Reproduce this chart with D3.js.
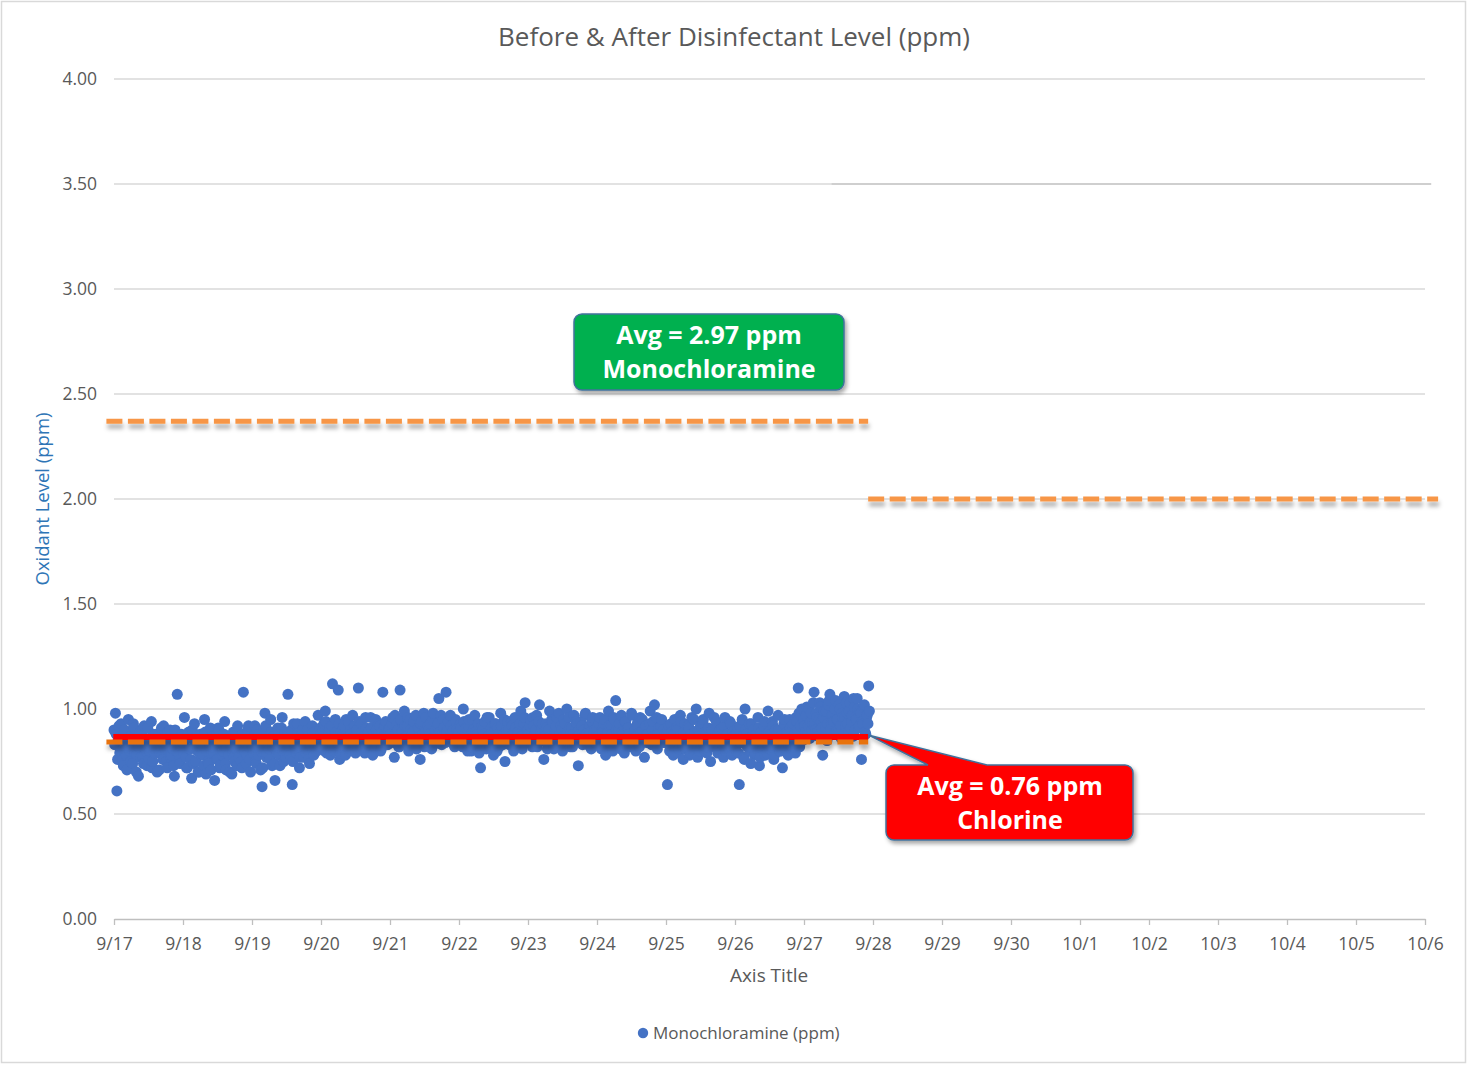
<!DOCTYPE html>
<html>
<head>
<meta charset="utf-8">
<script src="https://cdn.jsdelivr.net/npm/d3@7"></script>
<style>
  html, body { margin: 0; padding: 0; background: #fff; }
  svg { display: block; }
  text { font-family: "Open Sans", "Noto Sans", sans-serif; }
</style>
</head>
<body>
<svg id="chart" width="1467" height="1065"></svg>
<script>
// Monochloramine readings (ppm), one array per day; the first set is logged on the hour
// and half hour, the second set at quarter past and quarter to.
const day0917 = [0.90,0.98,0.61,0.85,0.79,0.93,0.76,0.88,0.82,0.71,0.95,0.80,0.87,0.74,0.91,0.83,0.78,0.68,0.89,0.84,0.77,0.92,0.81,0.73,0.86,0.80,0.94,0.75,0.83,0.88,0.70,0.85,0.79,0.91,0.76,0.82,0.87,0.72,0.84,0.90,0.78,0.81,0.68,0.86,1.07,0.79,0.74,0.88];
const day0918 = [0.84,0.96,0.77,0.72,0.89,0.81,0.67,0.86,0.93,0.75,0.80,0.70,0.88,0.83,0.78,0.95,0.69,0.85,0.74,0.91,0.79,0.82,0.66,0.87,0.76,0.90,0.73,0.84,0.80,0.94,0.71,0.86,0.78,0.83,0.69,0.89,0.75,0.81,0.92,0.77,0.85,0.72,1.08,0.80,0.74,0.90,0.82,0.70];
const day0919 = [0.86,0.79,0.92,0.74,0.83,0.88,0.71,0.63,0.90,0.98,0.77,0.85,0.81,0.95,0.73,0.87,0.66,0.82,0.91,0.78,0.84,0.96,0.75,0.89,0.80,1.07,0.86,0.76,0.64,0.93,0.82,0.79,0.88,0.72,0.85,0.90,0.77,0.94,0.81,0.87,0.74,0.83,0.92,0.78,0.86,0.80,0.97,0.84];
const day0920 = [0.88,0.82,0.93,0.99,0.79,0.86,0.91,0.84,1.12,0.80,0.95,0.87,1.09,0.76,0.89,0.83,0.92,0.78,0.86,0.94,0.81,0.88,0.97,0.84,0.79,0.90,1.10,0.85,0.93,0.82,0.87,0.96,0.80,0.89,0.84,0.91,0.78,0.86,0.95,0.83,0.88,0.92,0.81,1.08,0.87,0.94,0.85,0.90];
const day0921 = [0.91,0.85,0.96,0.77,0.88,0.93,0.82,1.09,0.90,0.86,0.99,0.84,0.92,0.80,0.95,0.87,0.89,0.83,0.97,0.85,0.91,0.76,0.94,0.88,0.82,0.96,0.86,0.90,0.93,0.81,0.98,0.87,0.84,0.92,1.05,0.89,0.83,0.95,0.88,1.08,0.91,0.85,0.97,0.86,0.90,0.82,0.94,0.87];
const day0922 = [0.89,0.93,0.84,1.00,0.87,0.91,0.80,0.95,0.86,0.82,0.90,0.97,0.83,0.88,0.79,0.72,0.92,0.85,0.94,0.81,0.87,0.96,0.84,0.89,0.78,0.93,0.86,0.91,0.82,0.98,0.85,0.88,0.75,0.90,0.94,0.83,0.87,0.92,0.80,0.96,0.86,0.89,0.84,0.99,0.81,0.93,1.03,0.85];
const day0923 = [0.90,0.86,0.95,0.82,0.92,0.88,0.97,0.84,1.02,0.89,0.93,0.76,0.87,0.91,0.83,0.99,0.86,0.94,0.81,0.90,0.96,0.85,0.88,0.92,0.80,0.95,0.87,1.00,0.84,0.91,0.89,0.82,0.97,0.86,0.93,0.73,0.88,0.94,0.83,0.90,0.98,0.85,0.87,0.92,0.81,0.96,0.89,0.84];
const day0924 = [0.91,0.85,0.96,0.81,0.89,0.93,0.78,0.87,0.99,0.84,0.92,0.80,0.95,1.04,0.86,0.90,0.83,0.97,0.88,0.79,0.94,0.85,0.91,0.82,0.98,0.87,0.89,0.80,0.93,0.84,0.96,0.86,0.90,0.77,0.92,0.88,0.85,0.99,0.83,0.94,1.02,0.87,0.81,0.91,0.89,0.95,0.84,0.88];
const day0925 = [0.87,0.64,0.92,0.83,0.89,0.78,0.95,0.85,0.90,0.81,0.97,0.86,0.76,0.93,0.88,0.82,0.91,0.79,0.96,0.84,0.89,1.00,0.77,0.87,0.92,0.83,0.95,0.80,0.88,0.85,0.98,0.75,0.90,0.86,0.82,0.94,0.79,0.89,0.84,0.91,0.77,0.96,0.85,0.88,0.81,0.93,0.78,0.87];
const day0926 = [0.86,0.80,0.91,0.64,0.84,0.95,0.77,1.00,0.88,0.82,0.93,0.74,0.87,0.90,0.79,0.85,0.96,0.73,0.89,0.83,0.92,0.78,0.86,0.99,0.81,0.88,0.94,0.76,0.90,0.84,0.97,0.80,0.87,0.72,0.93,0.85,0.89,0.78,0.95,0.83,0.91,0.86,0.79,0.94,1.10,0.82,0.97,0.85];
const day0927 = [0.95,0.89,1.01,0.92,0.86,0.98,0.93,1.08,0.90,0.96,0.87,1.03,0.94,0.78,0.99,0.91,0.85,1.02,1.07,0.93,0.97,0.88,1.04,0.95,0.90,1.00,0.86,0.96,1.06,0.92,0.98,0.89,1.03,0.94,0.87,1.01,0.96,1.05,0.91,0.99,0.76,0.93,1.02,0.88,0.97,1.11];

const day0917b = [0.83,0.88,0.76,0.92,0.80,0.86,0.73,0.90,0.78,0.84,0.87,0.75,0.81,0.93,0.79,0.70,0.85,0.82,0.77,0.89,0.74,0.86,0.80,0.91,0.76,0.84,0.72,0.88,0.79,0.83,0.87,0.71,0.85,0.78,0.92,0.81,0.75,0.89,0.83,0.77,0.86,0.73,0.90,0.80,0.84,0.76,0.82,0.87];
const day0918b = [0.79,0.85,0.72,0.88,0.81,0.76,0.90,0.74,0.83,0.87,0.70,0.82,0.78,0.86,0.73,0.89,0.80,0.75,0.84,0.71,0.87,0.79,0.83,0.76,0.91,0.72,0.85,0.78,0.88,0.74,0.81,0.86,0.70,0.84,0.79,0.77,0.89,0.73,0.82,0.86,0.75,0.88,0.80,0.84,0.78,0.92,0.76,0.83];
const day0919b = [0.81,0.87,0.75,0.90,0.78,0.84,0.80,0.72,0.86,0.92,0.79,0.83,0.76,0.89,0.82,0.74,0.85,0.79,0.88,0.73,0.91,0.80,0.84,0.77,0.87,0.82,0.78,0.90,0.75,0.86,0.80,0.93,0.83,0.77,0.88,0.81,0.85,0.79,0.90,0.76,0.84,0.87,0.80,0.89,0.82,0.86,0.83,0.91];
const day0920b = [0.85,0.90,0.80,0.94,0.83,0.88,0.78,0.92,0.86,0.81,0.89,0.84,0.93,0.79,0.87,0.91,0.82,0.95,0.85,0.80,0.90,0.86,0.83,0.92,0.88,0.81,0.94,0.84,0.89,0.86,0.79,0.91,0.87,0.83,0.96,0.85,0.88,0.82,0.90,0.86,0.93,0.80,0.89,0.84,0.92,0.87,0.83,0.91];
const day0921b = [0.88,0.93,0.84,0.97,0.86,0.90,0.82,0.95,0.89,0.85,0.92,0.87,0.96,0.83,0.90,0.88,0.94,0.86,0.81,0.91,0.87,0.93,0.85,0.98,0.89,0.84,0.92,0.88,0.86,0.95,0.83,0.90,0.87,0.93,0.85,0.97,0.88,0.91,0.84,0.89,0.94,0.86,0.92,0.88,0.83,0.95,0.90,0.86];
const day0922b = [0.86,0.91,0.82,0.94,0.88,0.84,0.92,0.87,0.80,0.95,0.85,0.89,0.83,0.93,0.86,0.81,0.90,0.88,0.84,0.96,0.87,0.82,0.91,0.85,0.89,0.93,0.80,0.88,0.86,0.92,0.83,0.95,0.87,0.84,0.90,0.86,0.94,0.82,0.89,0.91,0.85,0.88,0.93,0.87,0.84,0.96,0.86,0.90];
const day0923b = [0.88,0.92,0.84,0.96,0.87,0.90,0.82,0.94,0.86,0.91,0.85,0.89,0.93,0.81,0.90,0.87,0.95,0.84,0.88,0.92,0.86,0.98,0.83,0.90,0.87,0.93,0.85,0.89,0.96,0.82,0.91,0.88,0.84,0.94,0.87,0.90,0.86,0.92,0.85,0.97,0.88,0.83,0.91,0.89,0.94,0.86,0.90,0.87];
const day0924b = [0.87,0.93,0.83,0.90,0.86,0.95,0.82,0.89,0.92,0.85,0.88,0.96,0.84,0.90,0.87,0.93,0.81,0.89,0.86,0.94,0.83,0.91,0.88,0.85,0.97,0.84,0.90,0.87,0.92,0.82,0.89,0.95,0.86,0.91,0.84,0.88,0.93,0.85,0.90,0.87,0.83,0.96,0.88,0.85,0.92,0.86,0.90,0.84];
const day0925b = [0.85,0.90,0.80,0.93,0.84,0.88,0.82,0.91,0.79,0.87,0.94,0.83,0.89,0.81,0.86,0.92,0.78,0.88,0.84,0.95,0.82,0.87,0.90,0.80,0.86,0.93,0.83,0.89,0.79,0.91,0.85,0.88,0.82,0.96,0.84,0.87,0.81,0.90,0.86,0.83,0.92,0.80,0.88,0.85,0.94,0.82,0.89,0.84];
const day0926b = [0.83,0.89,0.79,0.92,0.84,0.87,0.76,0.90,0.82,0.86,0.80,0.93,0.85,0.78,0.88,0.83,0.91,0.77,0.86,0.81,0.94,0.84,0.79,0.89,0.85,0.82,0.92,0.78,0.87,0.83,0.90,0.80,0.86,0.84,0.95,0.81,0.88,0.83,0.91,0.86,0.93,0.88,0.96,0.90,0.98,0.92,1.00,0.94];
const day0927b = [0.92,0.97,0.88,1.00,0.94,0.90,1.03,0.93,0.98,0.89,0.95,1.01,0.91,0.96,0.87,0.99,0.93,1.04,0.90,0.97,0.94,1.00,0.89,0.95,1.02,0.92,0.98,0.88,0.96,1.03,0.93,0.99,0.91,0.97,1.05,0.90,0.95,1.00,0.92,0.98,0.94,1.01,0.89,0.96,0.93,0.99];

const onTheHalfHour = [day0917, day0918, day0919, day0920, day0921, day0922, day0923, day0924, day0925, day0926, day0927];
const onTheQuarter = [day0917b, day0918b, day0919b, day0920b, day0921b, day0922b, day0923b, day0924b, day0925b, day0926b, day0927b];

// Axis ticks
const yTicks = [0, 0.5, 1.0, 1.5, 2.0, 2.5, 3.0, 3.5, 4.0];

// Level guides: [value, from day, to day] counted from 9/17 00:00
const beforeLevel = [2.37, -0.11, 10.93];
const afterLevel = [2.00, 10.93, 19.19];
const chlorineLevel = [0.843, -0.11, 10.93];
const chlorineAvgLine = [0.867, -0.01, 10.93];
const upperRule = [3.50, 10.4, 19.09];

// Callout texts
const monoCallout = ["Avg = 2.97 ppm", "Monochloramine"];
const chlorineCallout = ["Avg = 0.76 ppm", "Chlorine"];

const start = new Date(2019, 8, 17);
const end = new Date(2019, 9, 6);
const atDay = d => new Date(+start + d * 864e5);

const svg = d3.select("#chart");
const x = d3.scaleTime().domain([start, end]).range([114, 1425]);
const y = d3.scaleLinear().domain([0, 4]).range([919, 79]);

// Shadows (user-space regions so flat lines keep their filter area)
const defs = svg.append("defs");
const sh = defs.append("filter").attr("id", "lineShadow").attr("filterUnits", "userSpaceOnUse")
  .attr("x", 0).attr("y", 0).attr("width", 1467).attr("height", 1065);
sh.append("feDropShadow").attr("dx", 1).attr("dy", 5).attr("stdDeviation", 2.2)
  .attr("flood-color", "#000").attr("flood-opacity", 0.3);
const bs = defs.append("filter").attr("id", "boxShadow").attr("filterUnits", "userSpaceOnUse")
  .attr("x", 0).attr("y", 0).attr("width", 1467).attr("height", 1065);
bs.append("feDropShadow").attr("dx", 2).attr("dy", 3).attr("stdDeviation", 2)
  .attr("flood-color", "#000").attr("flood-opacity", 0.35);

// Outer frame
svg.append("rect").attr("x", 1.5).attr("y", 1.5).attr("width", 1464).attr("height", 1061)
  .attr("fill", "#fff").attr("stroke", "#d9d9d9").attr("stroke-width", 1.5);

// Title
svg.append("text").attr("x", 734).attr("y", 46).attr("text-anchor", "middle")
  .attr("font-size", 26).attr("fill", "#595959")
  .text("Before & After Disinfectant Level (ppm)");

// Gridlines
svg.append("g").selectAll("line").data(yTicks.filter(d => d > 0)).join("line")
  .attr("x1", 114).attr("x2", 1425)
  .attr("y1", d => y(d)).attr("y2", d => y(d))
  .attr("stroke", "#d9d9d9").attr("stroke-width", 1.3);

svg.append("line")
  .attr("x1", x(atDay(upperRule[1]))).attr("x2", x(atDay(upperRule[2])))
  .attr("y1", y(upperRule[0])).attr("y2", y(upperRule[0]))
  .attr("stroke", "#cfcfcf").attr("stroke-width", 2.2);

// Y axis labels
svg.append("g").selectAll("text").data(yTicks).join("text")
  .attr("x", 97).attr("y", d => y(d) + 6).attr("text-anchor", "end")
  .attr("font-size", 17.5).attr("fill", "#595959")
  .text(d => d3.format(".2f")(d));

svg.append("text")
  .attr("transform", "translate(49,499) rotate(-90)")
  .attr("text-anchor", "middle").attr("font-size", 18.5).attr("fill", "#2e75b6")
  .text("Oxidant Level (ppm)");

// X axis
const xAxis = d3.axisBottom(x).ticks(d3.timeDay.every(1))
  .tickFormat(d3.timeFormat("%-m/%-d")).tickSizeInner(6).tickSizeOuter(0).tickPadding(13);
const gx = svg.append("g").attr("transform", `translate(0,${y(0)})`).call(xAxis);
gx.select(".domain").attr("stroke", "#bfbfbf").attr("stroke-width", 1.3);
gx.selectAll(".tick line").attr("stroke", "#bfbfbf").attr("stroke-width", 1.3);
gx.selectAll(".tick text").attr("font-size", 17.5).attr("fill", "#595959")
  .attr("font-family", "'Open Sans', sans-serif");

svg.append("text").attr("x", 769).attr("y", 982).attr("text-anchor", "middle")
  .attr("font-size", 19).attr("fill", "#595959").text("Axis Title");

// Scatter points
const points = [];
[[onTheHalfHour, 0], [onTheQuarter, 15]].forEach(([set, offset]) => {
  set.forEach((arr, k) => {
    arr.forEach((v, i) => points.push({
      t: d3.timeMinute.offset(d3.timeDay.offset(start, k), i * 30 + offset), v
    }));
  });
});
points.sort((a, b) => a.t - b.t);
svg.append("g").selectAll("circle").data(points).join("circle")
  .attr("cx", d => x(d.t)).attr("cy", d => y(d.v)).attr("r", 5.5)
  .attr("fill", "#4472c4");

// Level guides
function guide(spec, color, dash, width) {
  svg.append("line")
    .attr("x1", x(atDay(spec[1]))).attr("x2", x(atDay(spec[2])))
    .attr("y1", y(spec[0])).attr("y2", y(spec[0]))
    .attr("stroke", color).attr("stroke-width", width)
    .attr("stroke-dasharray", dash)
    .attr("filter", "url(#lineShadow)");
}
guide(beforeLevel, "#f79646", "16 5.5", 5);
guide(afterLevel, "#f79646", "16 5.5", 5);
guide(chlorineAvgLine, "#ff0000", null, 6);
guide(chlorineLevel, "#e8730f", "16 5.5", 5);

// Monochloramine callout
const mono = svg.append("g");
mono.append("rect").attr("x", 574).attr("y", 314).attr("width", 270).attr("height", 76)
  .attr("rx", 8).attr("fill", "#00b050").attr("stroke", "#41719c").attr("stroke-width", 1.5)
  .attr("filter", "url(#boxShadow)");
mono.selectAll("text").data(monoCallout).join("text")
  .attr("x", 709).attr("y", (d, i) => 344 + i * 34).attr("text-anchor", "middle")
  .attr("font-family", "Lato, 'Open Sans', sans-serif").attr("font-weight", "bold")
  .attr("font-size", 25).attr("fill", "#fff").text(d => d);

// Chlorine callout with pointer to the average line
const tipX = x(atDay(chlorineAvgLine[2])), tipY = y(chlorineAvgLine[0]) - 2;
const chl = svg.append("g");
const bx = 886, by = 765, bw = 247, bh = 75, r = 8;
const calloutPath = d3.path();
calloutPath.moveTo(bx + r, by);
calloutPath.lineTo(928, by);
calloutPath.lineTo(tipX, tipY);
calloutPath.lineTo(987, by);
calloutPath.lineTo(bx + bw - r, by);
calloutPath.arcTo(bx + bw, by, bx + bw, by + r, r);
calloutPath.lineTo(bx + bw, by + bh - r);
calloutPath.arcTo(bx + bw, by + bh, bx + bw - r, by + bh, r);
calloutPath.lineTo(bx + r, by + bh);
calloutPath.arcTo(bx, by + bh, bx, by + bh - r, r);
calloutPath.lineTo(bx, by + r);
calloutPath.arcTo(bx, by, bx + r, by, r);
calloutPath.closePath();
chl.append("path").attr("d", calloutPath.toString())
  .attr("fill", "#ff0000").attr("stroke", "#41719c").attr("stroke-width", 1.5)
  .attr("filter", "url(#boxShadow)");
chl.selectAll("text").data(chlorineCallout).join("text")
  .attr("x", 1010).attr("y", (d, i) => 795 + i * 34).attr("text-anchor", "middle")
  .attr("font-family", "Lato, 'Open Sans', sans-serif").attr("font-weight", "bold")
  .attr("font-size", 25).attr("fill", "#fff").text(d => d);

// Legend
svg.append("circle").attr("cx", 643).attr("cy", 1033).attr("r", 5.2).attr("fill", "#4472c4");
svg.append("text").attr("x", 653).attr("y", 1039).attr("font-size", 17).attr("fill", "#595959")
  .text("Monochloramine (ppm)");
</script>
</body>
</html>
